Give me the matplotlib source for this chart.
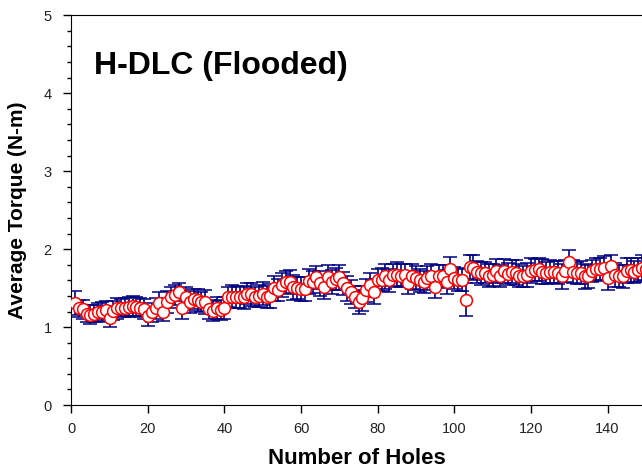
import numpy as np
import matplotlib
matplotlib.use('Agg')
import matplotlib.pyplot as plt
from matplotlib.ticker import MultipleLocator

plt.rcParams['font.family'] = ['Liberation Sans', 'DejaVu Sans']

# Average torque per hole
torque = [
    1.31, 1.24, 1.23, 1.17, 1.16, 1.17, 1.19, 1.20, 1.22, 1.12,
    1.21, 1.24, 1.25, 1.25, 1.26, 1.27, 1.26, 1.25, 1.23, 1.14,
    1.19, 1.24, 1.31, 1.20, 1.32, 1.38, 1.41, 1.45, 1.24, 1.38,
    1.32, 1.36, 1.35, 1.32, 1.32, 1.23, 1.21, 1.25, 1.22, 1.24,
    1.39, 1.39, 1.39, 1.38, 1.38, 1.43, 1.42, 1.39, 1.40, 1.43,
    1.39, 1.40, 1.50, 1.48, 1.54, 1.58, 1.58, 1.51, 1.50, 1.49,
    1.49, 1.59, 1.58, 1.64, 1.56, 1.51, 1.64, 1.58, 1.62, 1.64,
    1.56, 1.50, 1.45, 1.39, 1.32, 1.37, 1.47, 1.54, 1.45, 1.60,
    1.61, 1.65, 1.60, 1.67, 1.67, 1.66, 1.67, 1.57, 1.65, 1.63,
    1.60, 1.58, 1.63, 1.66, 1.51, 1.65, 1.66, 1.58, 1.75, 1.63,
    1.61, 1.60, 1.35, 1.77, 1.76, 1.71, 1.69, 1.70, 1.66, 1.67,
    1.72, 1.66, 1.72, 1.68, 1.71, 1.70, 1.66, 1.65, 1.67, 1.72,
    1.73, 1.74, 1.71, 1.69, 1.71, 1.71, 1.70, 1.65, 1.72, 1.84,
    1.71, 1.69, 1.70, 1.65, 1.65, 1.72, 1.74, 1.74, 1.76, 1.63,
    1.78, 1.67, 1.66, 1.65, 1.72, 1.73, 1.71, 1.73, 1.76, 1.74,
]

# Standard deviation of torque per hole (error bar half-length)
torque_sd = [
    0.15, 0.11, 0.12, 0.11, 0.12, 0.11, 0.12, 0.12, 0.11, 0.12,
    0.12, 0.13, 0.11, 0.12, 0.13, 0.13, 0.12, 0.12, 0.13, 0.12,
    0.12, 0.13, 0.14, 0.12, 0.14, 0.13, 0.13, 0.12, 0.14, 0.13,
    0.14, 0.13, 0.14, 0.13, 0.15, 0.12, 0.13, 0.14, 0.13, 0.14,
    0.13, 0.15, 0.14, 0.13, 0.15, 0.14, 0.15, 0.13, 0.14, 0.15,
    0.14, 0.15, 0.16, 0.14, 0.15, 0.14, 0.15, 0.16, 0.14, 0.15,
    0.15, 0.16, 0.14, 0.15, 0.16, 0.15, 0.16, 0.15, 0.14, 0.16,
    0.15, 0.16, 0.15, 0.14, 0.15, 0.16, 0.15, 0.16, 0.15, 0.14,
    0.15, 0.16, 0.15, 0.14, 0.16, 0.15, 0.14, 0.15, 0.16, 0.15,
    0.15, 0.14, 0.16, 0.15, 0.14, 0.15, 0.14, 0.15, 0.15, 0.14,
    0.15, 0.14, 0.21, 0.15, 0.16, 0.14, 0.15, 0.14, 0.15, 0.14,
    0.15, 0.14, 0.15, 0.14, 0.15, 0.16, 0.15, 0.14, 0.15, 0.16,
    0.14, 0.15, 0.16, 0.14, 0.15, 0.14, 0.15, 0.16, 0.14, 0.15,
    0.15, 0.14, 0.15, 0.16, 0.15, 0.14, 0.15, 0.14, 0.15, 0.16,
    0.14, 0.15, 0.14, 0.15, 0.16, 0.15, 0.14, 0.15, 0.16, 0.15,
]

holes = np.arange(1, len(torque) + 1)

fig = plt.figure(figsize=(6.42, 4.76), dpi=100)
ax = fig.add_axes([0.111, 0.149, 0.889, 0.819])

ax.errorbar(holes, torque, yerr=torque_sd, fmt='o', color='#000080',
            ecolor='#000080', elinewidth=1.2, capsize=5, capthick=1.2,
            markersize=8.5, markerfacecolor='white', markeredgecolor='red',
            markeredgewidth=1.1, zorder=3)

ax.set_xlim(0, 149)
ax.set_ylim(0, 5)
ax.xaxis.set_major_locator(MultipleLocator(20))
ax.yaxis.set_major_locator(MultipleLocator(1))
ax.yaxis.set_minor_locator(MultipleLocator(0.2))
ax.tick_params(axis='both', which='major', direction='out', length=6,
               width=1, labelsize=10.5, labelcolor='#222222')
ax.tick_params(axis='y', which='major', pad=8)
ax.tick_params(axis='x', which='major', pad=6)
ax.tick_params(axis='y', which='minor', direction='out', length=3, width=1)
ax.tick_params(top=False, right=False)
ax.spines['right'].set_visible(False)

ax.set_xlabel('Number of Holes', fontsize=16, fontweight='bold', labelpad=9)
ax.set_ylabel('Average Torque (N-m)', fontsize=15, fontweight='bold', labelpad=12)
ax.text(0.04, 0.87, 'H-DLC (Flooded)', transform=ax.transAxes,
        fontsize=23, fontweight='bold', va='center', ha='left')

plt.savefig('out.png', dpi=100)
plt.close()
